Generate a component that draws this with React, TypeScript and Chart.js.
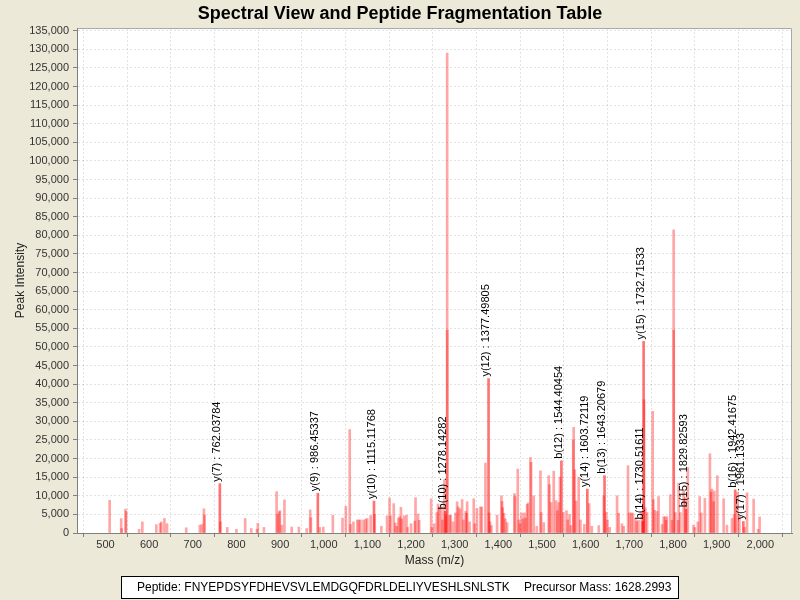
import React, { useEffect, useRef } from "react";
import { Chart, registerables } from "chart.js";

Chart.register(...registerables);

const FONT = "'Liberation Sans', Arial, Helvetica, sans-serif";

const chartTitle = "Spectral View and Peptide Fragmentation Table";
const xAxisTitle = "Mass (m/z)";
const yAxisTitle = "Peak Intensity";
const peptideLabel = "Peptide: FNYEPDSYFDHEVSVLEMDGQFDRLDELIYVESHLSNLSTK";
const precursorLabel = "Precursor Mass: 1628.2993";

const xTickValues = [500, 600, 700, 800, 900, 1000, 1100, 1200, 1300, 1400, 1500, 1600, 1700, 1800, 1900, 2000];
const yTickValues = [
  0, 5000, 10000, 15000, 20000, 25000, 30000, 35000, 40000, 45000, 50000, 55000, 60000, 65000,
  70000, 75000, 80000, 85000, 90000, 95000, 100000, 105000, 110000, 115000, 120000, 125000, 130000, 135000,
];
const xRange = [434.8, 2072.6];
const yRange = [0, 135726];

const peakMasses = [
  509.6, 536.0, 537.2, 546.0, 547.2, 577.0, 584.5, 616.5, 625.0, 628.0, 635.0, 641.0, 685.0, 716.0, 721.0,
  725.5, 727.0, 763.5, 779.0, 800.0, 820.0, 834.0, 847.0, 849.0, 863.0, 892.0, 894.0, 898.0, 899.5, 904.0,
  910.0, 926.5, 943.0, 961.0, 969.0, 970.5, 991.0, 999.0, 1020.8, 1043.0, 1050.6, 1059.5, 1061.5, 1068.0,
  1077.0, 1080.5, 1084.0, 1091.0, 1096.0, 1099.5, 1107.5, 1116.5, 1132.0, 1145.0, 1150.8, 1153.0, 1160.3,
  1164.0, 1167.0, 1171.0, 1174.0, 1176.8, 1178.5, 1184.0, 1189.6, 1192.0, 1200.0, 1208.6, 1210.2, 1216.0,
  1218.6, 1246.0, 1248.0, 1253.0, 1259.0, 1262.0, 1264.5, 1269.6, 1272.0, 1276.5, 1280.0, 1282.7, 1282.9,
  1288.6, 1290.5, 1296.0, 1301.7, 1305.5, 1308.0, 1312.0, 1317.0, 1320.0, 1325.0, 1327.0, 1328.5, 1334.0,
  1343.6, 1346.0, 1351.0, 1359.0, 1362.0, 1370.4, 1379.0, 1381.0, 1384.0, 1397.0, 1407.0, 1408.5, 1410.0,
  1413.0, 1416.0, 1420.0, 1436.8, 1438.0, 1444.4, 1447.0, 1450.0, 1453.0, 1456.0, 1459.7, 1462.0, 1465.8,
  1468.0, 1473.4, 1475.0, 1481.0, 1488.0, 1496.5, 1498.0, 1504.0, 1515.3, 1517.0, 1521.0, 1526.8, 1532.0,
  1535.0, 1538.0, 1541.0, 1549.0, 1556.0, 1559.0, 1563.0, 1566.0, 1571.5, 1572.5, 1575.0, 1578.0, 1584.0,
  1588.0, 1597.0, 1608.0, 1614.0, 1630.0, 1641.5, 1647.0, 1650.0, 1655.0, 1671.9, 1675.6, 1683.0, 1687.0,
  1697.0, 1700.0, 1704.6, 1708.0, 1714.0, 1717.0, 1721.0, 1728.5, 1733.8, 1736.7, 1740.6, 1753.4, 1755.0,
  1758.0, 1763.5, 1767.0, 1775.0, 1778.6, 1782.0, 1784.0, 1786.0, 1794.0, 1798.0, 1801.5, 1801.7, 1805.4,
  1811.6, 1813.0, 1817.0, 1824.4, 1828.3, 1834.0, 1847.0, 1850.0, 1857.0, 1861.0, 1864.8, 1873.0, 1884.5,
  1887.0, 1889.0, 1893.0, 1894.7, 1901.5, 1916.0, 1923.6, 1935.0, 1940.0, 1948.0, 1952.0, 1964.0, 1969.6,
  1984.7, 1995.0, 1998.4,
];
const peakIntensities = [
  8800, 3850, 1200, 6450, 5800, 1000, 3000, 2250, 2600, 3000, 3900, 2500, 1400, 2100, 2300,
  6500, 4800, 3000, 1500, 1000, 3900, 1200, 1000, 2600, 1500, 11100, 5000, 5700, 6000, 2100,
  8900, 1600, 1600, 1200, 6200, 4100, 1500, 1600, 4800, 4000, 7200, 27800, 2300, 3000,
  3500, 3500, 3500, 3500, 3700, 3900, 4700, 5000, 1800, 4600, 9400, 4600, 7900,
  2700, 1800, 4000, 4400, 6900, 3800, 4600, 4800, 1500, 2500, 3200, 9500, 5100,
  3400, 9200, 1500, 2500, 5500, 7800, 7000, 7100, 3500, 14300, 4800, 129000, 54500,
  4800, 4800, 3000, 5400, 8400, 7000, 6500, 9000, 3500, 5800, 5300, 8400, 3000,
  9200, 2500, 6600, 7000, 7000, 18800, 5400, 3000, 2000, 4800, 10000, 8500, 6800,
  5300, 3800, 2800, 10600, 9800, 17200, 3500, 2500, 5400, 3800, 5400, 4000, 7700,
  8100, 20300, 19000, 10000, 1800, 16700, 5500, 2800, 15400, 13000, 8200, 16600, 8700,
  6000, 8200, 15000, 5500, 6000, 3500, 5000, 2000, 25000, 28400, 17000, 8600, 15000,
  3500, 2300, 7900, 1800, 2000, 10000, 5600, 3500, 1500, 10000, 5300, 2500, 1800,
  18100, 5400, 5400, 5300, 4000, 3100, 3400, 5700, 35800, 6800, 5500, 32700, 9000,
  6100, 5800, 9800, 2300, 4400, 4300, 3400, 4400, 10300, 3400, 81500, 54500, 5500,
  3400, 13400, 5500, 11600, 9500, 17600, 2100, 1500, 3000, 9800, 5400, 9300, 21300,
  11000, 11800, 8400, 11300, 15400, 9200, 2100, 3900, 5000, 11000, 4500, 1500, 10800,
  9100, 1000, 4300,
];

const ionLabels = ["y(7)", "y(9)", "y(10)", "b(10)", "y(12)", "b(12)", "y(14)", "b(13)", "b(14)", "y(15)", "b(15)", "b(16)", "y(17)"];
const ionMasses = [762.03784, 986.45337, 1115.11768, 1278.14282, 1377.49805, 1544.40454, 1603.72119, 1643.20679, 1730.51611, 1732.71533, 1829.82593, 1942.41675, 1961.1333];
const ionIntensities = [13260, 10700, 8600, 5800, 41500, 19400, 11800, 15400, 3100, 51500, 6400, 11600, 3100];

const spectrumDecor = {
  id: "spectrumDecor",
  beforeDraw(chart: any) {
    const { ctx, width, height, chartArea: a } = chart;
    ctx.save();
    ctx.fillStyle = "#ECE9D8";
    ctx.fillRect(0, 0, width, height);
    ctx.fillStyle = "#FFFFFF";
    ctx.fillRect(a.left, a.top, a.right - a.left, a.bottom - a.top);
    ctx.restore();
  },
  afterDatasetsDraw(chart: any) {
    const { ctx, chartArea: a, scales } = chart;
    const xs = scales.x;
    const ys = scales.y;
    ctx.save();
    const l = Math.round(a.left) + 0.5;
    const t = Math.round(a.top) + 0.5;
    const r = Math.round(a.right) - 0.5;
    const b = Math.round(a.bottom) + 0.5;
    ctx.lineWidth = 1;
    ctx.strokeStyle = "#A8A8A8";
    ctx.beginPath();
    ctx.moveTo(l, t);
    ctx.lineTo(r, t);
    ctx.lineTo(r, b);
    ctx.stroke();
    ctx.strokeStyle = "#808080";
    ctx.beginPath();
    ctx.moveTo(l, t);
    ctx.lineTo(l, b);
    ctx.lineTo(r, b);
    ctx.stroke();

    ctx.font = `11px ${FONT}`;
    ctx.fillStyle = "#000000";
    ctx.textAlign = "left";
    ctx.textBaseline = "middle";
    ionLabels.forEach((lab, i) => {
      const x = xs.getPixelForValue(ionMasses[i]);
      const y = ys.getPixelForValue(ionIntensities[i]);
      ctx.save();
      ctx.translate(x - 2.5, y - 2);
      ctx.rotate(-Math.PI / 2);
      ctx.fillText(`${lab} : ${ionMasses[i]}`, 0, 0);
      ctx.restore();
    });
    ctx.restore();
  },
  afterDraw(chart: any) {
    const { ctx } = chart;
    ctx.save();
    ctx.fillStyle = "#000000";
    ctx.font = `bold 18px ${FONT}`;
    ctx.textAlign = "center";
    ctx.textBaseline = "alphabetic";
    ctx.fillText(chartTitle, 400, 19);

    ctx.fillStyle = "#FFFFFF";
    ctx.fillRect(121.5, 576.5, 557, 22);
    ctx.strokeStyle = "#000000";
    ctx.lineWidth = 1;
    ctx.strokeRect(121.5, 576.5, 557, 22);
    ctx.fillStyle = "#000000";
    ctx.font = `12px ${FONT}`;
    ctx.textAlign = "left";
    ctx.fillText(peptideLabel, 137, 591);
    ctx.fillText(precursorLabel, 524, 591);
    ctx.restore();
  },
};

export default function App() {
  const ref = useRef<HTMLCanvasElement | null>(null);

  useEffect(() => {
    if (!ref.current) return;
    const peakData = peakMasses.map((m, i) => ({ x: m, y: peakIntensities[i] }));
    const ionData = ionMasses.map((m, i) => ({ x: m, y: ionIntensities[i] }));
    const chart = new Chart(ref.current, {
      type: "bar",
      data: {
        datasets: [
          {
            label: "Peaks",
            data: peakData,
            backgroundColor: "rgba(255, 0, 0, 0.35)",
            borderWidth: 0,
            barThickness: 2,
            grouped: false,
          } as any,
          {
            label: "Fragment ions",
            data: ionData,
            backgroundColor: "rgba(255, 0, 0, 0.55)",
            borderWidth: 0,
            barThickness: 2,
            grouped: false,
          } as any,
        ],
      },
      options: {
        animation: false,
        responsive: false,
        layout: { padding: { top: 28, left: 0, right: 8, bottom: 0 } },
        plugins: {
          legend: { display: false },
          tooltip: { enabled: false },
          title: { display: false },
        },
        scales: {
          x: {
            type: "linear",
            min: xRange[0],
            max: xRange[1],
            offset: false,
            afterBuildTicks: (s: any) => {
              s.ticks = xTickValues.map((v) => ({ value: v }));
            },
            afterFit: (s: any) => {
              s.height = 67;
            },
            ticks: {
              autoSkip: false,
              maxRotation: 0,
              padding: 1,
              color: "#333333",
              font: { family: FONT, size: 11 },
              callback: (v: any) => Number(v).toLocaleString("en-US"),
            },
            grid: { color: "rgba(0,0,0,0.11)", tickLength: 4, tickColor: "#808080" },
            border: { color: "#808080", dash: [2, 2] },
            title: {
              display: true,
              text: xAxisTitle,
              color: "#222222",
              font: { family: FONT, size: 12 },
              padding: { top: 0, bottom: 32 },
            },
          },
          y: {
            type: "linear",
            min: yRange[0],
            max: yRange[1],
            afterBuildTicks: (s: any) => {
              s.ticks = yTickValues.map((v) => ({ value: v }));
            },
            afterFit: (s: any) => {
              s.width = 77;
            },
            ticks: {
              autoSkip: false,
              padding: 4,
              color: "#333333",
              font: { family: FONT, size: 11 },
              callback: (v: any) => Number(v).toLocaleString("en-US"),
            },
            grid: { color: "rgba(0,0,0,0.11)", tickLength: 4, tickColor: "#808080" },
            border: { color: "#808080", dash: [2, 2] },
            title: {
              display: true,
              text: yAxisTitle,
              color: "#222222",
              font: { family: FONT, size: 12 },
              padding: { top: 13, bottom: 0 },
            },
          },
        },
      } as any,
      plugins: [spectrumDecor],
    });
    return () => chart.destroy();
  }, []);

  return (
    <div style={{ position: "fixed", left: 0, top: 0, width: 800, height: 600 }}>
      <canvas ref={ref} width={800} height={600} style={{ display: "block", width: 800, height: 600 }} />
    </div>
  );
}
